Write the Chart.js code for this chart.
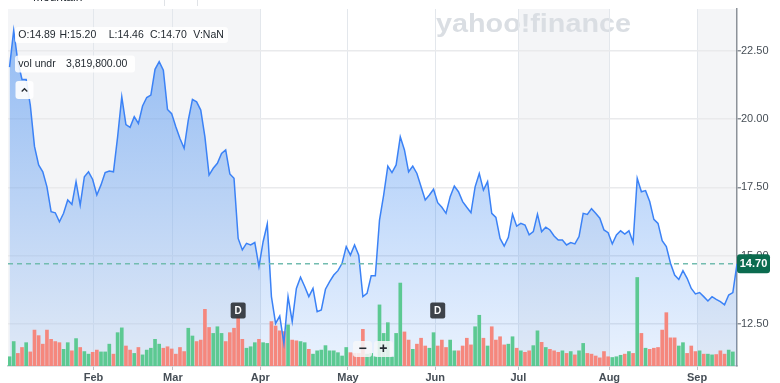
<!DOCTYPE html>
<html>
<head>
<meta charset="utf-8">
<script src="https://cdn.jsdelivr.net/npm/chart.js@4.4.1/dist/chart.umd.min.js"></script>
<style>
  html, body { margin: 0; padding: 0; background: #fff; }
  canvas { display: block; }
</style>
</head>
<body>
<canvas id="chart" width="780" height="383"></canvas>
<script>
// daily closes, Jan 2 .. Sep 13 (trading days)
const closes = [
  21.90, 23.25, 22.10, 21.45, 21.45, 20.50, 19.00, 18.32, 18.07, 17.52,
  16.61, 16.57, 16.24, 16.55, 17.04, 16.88, 17.71, 16.85, 17.89, 18.07,
  17.79, 17.22, 17.59, 18.04, 18.10, 18.07, 19.35, 20.82, 19.80, 19.70,
  20.09, 19.84, 20.48, 20.79, 20.88, 21.82, 22.10, 21.79, 20.35, 20.20,
  19.72, 19.29, 18.93, 19.96, 20.72, 20.63, 20.33, 19.35, 17.95, 18.20,
  18.38, 18.74, 18.87, 17.99, 17.83, 15.63, 15.21, 15.45, 15.39, 15.48,
  14.60, 15.51, 16.16, 13.50, 12.52, 12.79, 11.79, 13.50, 12.59, 13.80,
  14.21, 13.87, 13.50, 13.80, 12.95, 13.01, 13.77, 14.05, 14.29, 14.45,
  14.72, 15.33, 15.02, 15.39, 15.02, 13.50, 13.62, 14.26, 14.26, 16.30,
  17.22, 18.28, 18.04, 18.32, 19.35, 18.87, 18.07, 18.28, 18.01, 17.52,
  17.04, 17.22, 17.43, 16.94, 16.77, 16.55, 17.16, 17.55, 17.34, 16.98,
  16.77, 16.57, 17.52, 18.01, 17.40, 17.71, 16.55, 16.40, 15.63, 15.35,
  15.67, 16.52, 16.08, 16.18, 16.12, 15.76, 15.88, 16.52, 15.88, 16.04,
  15.94, 15.72, 15.57, 15.57, 15.39, 15.48, 15.43, 15.70, 16.55, 16.51,
  16.72, 16.55, 16.37, 15.94, 15.84, 15.43, 15.76, 15.91, 15.79, 15.91,
  15.48, 17.83, 17.34, 17.38, 16.98, 16.33, 16.18, 15.55, 15.33, 14.72,
  14.29, 14.13, 14.45, 14.17, 13.80, 13.60, 13.65, 13.50, 13.34, 13.50,
  13.40, 13.32, 13.20, 13.56, 13.65, 14.70
];

// volume in millions (last day has no volume)
const volumes = [
  2.5, 6.6, 3.4, 5.0, 6.3, 3.8, 9.7, 8.2, 5.9, 9.7,
  7.2, 6.6, 6.3, 4.5, 6.3, 4.1, 7.4, 5.0, 3.9, 3.2,
  3.7, 4.3, 3.8, 3.8, 5.9, 3.2, 9.0, 10.3, 5.4, 4.3,
  3.4, 5.0, 3.0, 4.3, 4.8, 7.2, 5.9, 4.8, 5.2, 4.6,
  3.2, 5.0, 3.9, 10.2, 8.1, 6.6, 7.0, 15.3, 10.4, 8.8,
  10.6, 8.8, 6.6, 9.0, 10.2, 13.3, 7.2, 4.8, 5.2, 6.3,
  7.2, 6.3, 6.1, 12.0, 10.8, 9.5, 9.3, 11.1, 7.0, 6.8,
  6.6, 6.3, 4.5, 3.2, 4.1, 4.3, 5.5, 4.1, 4.1, 3.6,
  2.7, 5.0, 3.6, 3.4, 3.4, 9.9, 3.2, 3.4, 2.5, 16.5,
  8.8, 11.7, 2.4, 8.8, 22.4, 9.2, 7.0, 4.5, 5.9, 7.5,
  5.4, 4.8, 9.0, 5.4, 7.0, 5.0, 7.0, 4.1, 4.1, 5.4,
  7.5, 5.7, 10.6, 13.7, 7.5, 5.4, 10.6, 7.0, 7.9, 5.7,
  5.9, 7.9, 4.8, 4.1, 3.7, 4.1, 5.5, 9.5, 6.4, 5.0,
  4.5, 4.1, 3.7, 4.1, 3.4, 3.9, 3.0, 4.1, 6.1, 3.4,
  3.2, 2.7, 2.2, 3.9, 2.5, 2.3, 2.5, 2.9, 3.2, 3.9,
  3.4, 23.9, 8.8, 4.8, 4.5, 4.8, 5.0, 9.7, 14.4, 7.6,
  7.6, 5.4, 6.3, 3.4, 5.4, 3.9, 4.1, 3.2, 3.2, 3.0,
  3.1, 4.1, 3.2, 4.3, 3.8, null
];

// g = up day, r = down day
const volDir = (
  'ggrrgrrrrr' + 'rrrggrgrgg' + 'rrgggrggrr' + 'grgggggrrr' + 'rrrggrrrrg' +
  'ggrrrrrggg' + 'rggrrrrgrr' + 'ggrggggggg' + 'ggrrrrgggg' + 'gggggrrgrr' +
  'rggrrrggrr' + 'rrggrgrrrr' + 'ggrgrrggrg' + 'rrrgrgrggr' + 'rrrrrgggrg' +
  'rgrgrrrrrr' + 'rggrrrgrgg' + 'rrrgg'
).split('');

const monthLabels = ['Feb', 'Mar', 'Apr', 'May', 'Jun', 'Jul', 'Aug', 'Sep'];
const monthPos = [20.2, 39.3, 60.3, 81.4, 102.4, 122.4, 144.3, 165.4];
const priceTicks = [12.5, 15, 17.5, 20, 22.5];
const dividendDays = [55, 103];

const lastBar = { o: '14.89', h: '15.20', l: '14.46', c: '14.70', v: 'NaN' };
const volUnder = '3,819,800.00';

const FONT = "'Liberation Sans', Arial, sans-serif";
const GREEN = '#5cc992';
const RED = '#f5877d';

function box(ctx, x, y, w, h, r) {
  ctx.beginPath();
  ctx.roundRect(x, y, w, h, r);
  ctx.fill();
}

const decor = {
  id: 'decor',
  beforeDraw(chart) {
    const { ctx, chartArea: a, scales: { x } } = chart;
    ctx.save();
    ctx.fillStyle = '#fff';
    ctx.fillRect(0, 0, chart.width, chart.height);

    // shaded period bands
    const bands = [[x.min, monthPos[2]], [monthPos[5], monthPos[6]], [monthPos[7], x.max]];
    ctx.fillStyle = '#f4f5f7';
    bands.forEach(([s, e]) => {
      const x0 = x.getPixelForValue(s), x1 = x.getPixelForValue(e);
      ctx.fillRect(x0, a.top, x1 - x0, a.bottom - a.top);
    });

    // toolbar remnants at the very top
    ctx.fillStyle = '#232a31';
    ctx.font = '12px ' + FONT;
    ctx.textBaseline = 'alphabetic';
    ctx.fillText('Mountain', 33, 1);
    ctx.fillStyle = '#e0e3e7';
    ctx.fillRect(164, 0, 1, 6);
    ctx.fillRect(197, 0, 1, 6);

    // watermark
    ctx.fillStyle = '#dadee3';
    ctx.font = 'bold 26px ' + FONT;
    const txt = 'yahoo!finance';
    const w = ctx.measureText(txt).width;
    ctx.translate(436, 32);
    ctx.scale(195 / w, 1);
    ctx.fillText(txt, 0, 0);
    ctx.restore();
  },
  afterDraw(chart) {
    const { ctx, chartArea: a, scales: { x, y } } = chart;
    const last = closes[closes.length - 1];
    const py = y.getPixelForValue(last);
    ctx.save();

    // last price dashed line
    ctx.strokeStyle = '#72bcaf';
    ctx.lineWidth = 1.5;
    ctx.setLineDash([5, 4]);
    ctx.beginPath();
    ctx.moveTo(a.left, py);
    ctx.lineTo(a.right, py);
    ctx.stroke();
    ctx.setLineDash([]);

    // last price tag
    ctx.fillStyle = '#0b6b4f';
    box(ctx, a.right, py - 9.5, 33, 19, 3);
    ctx.fillStyle = '#fff';
    ctx.font = 'bold 11px ' + FONT;
    ctx.textAlign = 'center';
    ctx.textBaseline = 'middle';
    ctx.fillText(last.toFixed(2), a.right + 16.5, py + 0.5);

    // dividend markers
    dividendDays.forEach(d => {
      const cx = x.getPixelForValue(d);
      ctx.fillStyle = 'rgba(44,49,54,0.9)';
      box(ctx, cx - 7.5, 302.5, 15, 16, 2);
      ctx.fillStyle = '#fff';
      ctx.font = 'bold 10px ' + FONT;
      ctx.fillText('D', cx, 311);
    });

    // OHLC header
    ctx.textAlign = 'left';
    ctx.fillStyle = 'rgba(255,255,255,0.85)';
    box(ctx, 15, 27, 213, 16, 3);
    box(ctx, 15, 55.5, 120, 17, 3);
    ctx.fillStyle = '#232a31';
    ctx.font = '10.5px ' + FONT;
    ctx.fillText('O:' + lastBar.o, 18.3, 35.5);
    ctx.fillText('H:' + lastBar.h, 59.5, 35.5);
    ctx.fillText('L:' + lastBar.l, 108.7, 35.5);
    ctx.fillText('C:' + lastBar.c, 150, 35.5);
    ctx.fillText('V:' + lastBar.v, 193.3, 35.5);
    ctx.fillText('vol undr', 18.3, 64);
    ctx.fillText(volUnder, 66, 64);

    // collapse button
    ctx.fillStyle = 'rgba(255,255,255,0.9)';
    box(ctx, 15.5, 81, 18, 18, 3);
    ctx.strokeStyle = '#232a31';
    ctx.lineWidth = 1.3;
    ctx.beginPath();
    ctx.moveTo(21.7, 91.5);
    ctx.lineTo(24.5, 88.7);
    ctx.lineTo(27.3, 91.5);
    ctx.stroke();

    // zoom buttons
    ctx.fillStyle = 'rgba(246,247,249,0.85)';
    box(ctx, 353, 341, 19, 16, 3);
    box(ctx, 374, 341, 19, 16, 3);
    ctx.fillStyle = '#232a31';
    ctx.font = 'bold 14px ' + FONT;
    ctx.textAlign = 'center';
    ctx.fillText('\u2212', 362.7, 349);
    ctx.fillText('+', 383.3, 349);
    ctx.restore();
  }
};

const ctx = document.getElementById('chart').getContext('2d');

new Chart(ctx, {
  data: {
    datasets: [
      {
        type: 'line',
        label: 'Close',
        data: closes.map((v, i) => ({ x: i, y: v })),
        yAxisID: 'y',
        borderColor: '#3b82f6',
        borderWidth: 1.5,
        pointRadius: 0,
        tension: 0,
        fill: 'start',
        backgroundColor: (c) => {
          const area = c.chart.chartArea;
          if (!area) return 'rgba(59,130,246,0.3)';
          const g = c.chart.ctx.createLinearGradient(0, area.top, 0, area.bottom);
          g.addColorStop(0, 'rgba(50,130,240,0.52)');
          g.addColorStop(1, 'rgba(50,130,240,0.10)');
          return g;
        },
        order: 0
      },
      {
        type: 'bar',
        label: 'Volume',
        data: volumes.map((v, i) => ({ x: i, y: v })),
        yAxisID: 'vol',
        backgroundColor: volDir.map(d => d === 'g' ? GREEN : RED),
        barThickness: 3,
        order: 1
      }
    ]
  },
  options: {
    responsive: false,
    animation: false,
    layout: { padding: { top: 9, left: 8, right: 0, bottom: 0 } },
    plugins: {
      legend: { display: false },
      tooltip: { enabled: false },
      filler: { drawTime: 'beforeDatasetsDraw' }
    },
    scales: {
      x: {
        type: 'linear',
        offset: false,
        min: -0.37,
        max: 175,
        afterBuildTicks: s => { s.ticks = monthPos.map(v => ({ value: v })); },
        afterFit: s => { s.height = 17; },
        ticks: {
          autoSkip: false,
          maxRotation: 0,
          padding: 1,
          color: '#464e56',
          font: { family: FONT, size: 11, weight: 'bold' },
          callback: (v, i) => monthLabels[i]
        },
        grid: { offset: false, color: '#e3e7ec', lineWidth: 1, tickLength: 4, tickColor: '#b9bec4' },
        border: { color: '#c4c9cf', width: 1.5 }
      },
      y: {
        position: 'right',
        min: 10.96,
        max: 24.03,
        afterBuildTicks: s => { s.ticks = priceTicks.map(v => ({ value: v })); },
        afterFit: s => { s.width = 43; },
        ticks: {
          padding: 0,
          color: '#464e56',
          font: { family: FONT, size: 11 },
          callback: v => v.toFixed(2)
        },
        grid: { color: '#e9eaec', lineWidth: 1.5, tickLength: 4, tickColor: '#8c9299' },
        border: { color: '#8c9299', width: 1.5 }
      },
      vol: {
        display: false,
        min: 0,
        max: 96.4
      }
    }
  },
  plugins: [decor]
});
</script>
</body>
</html>
